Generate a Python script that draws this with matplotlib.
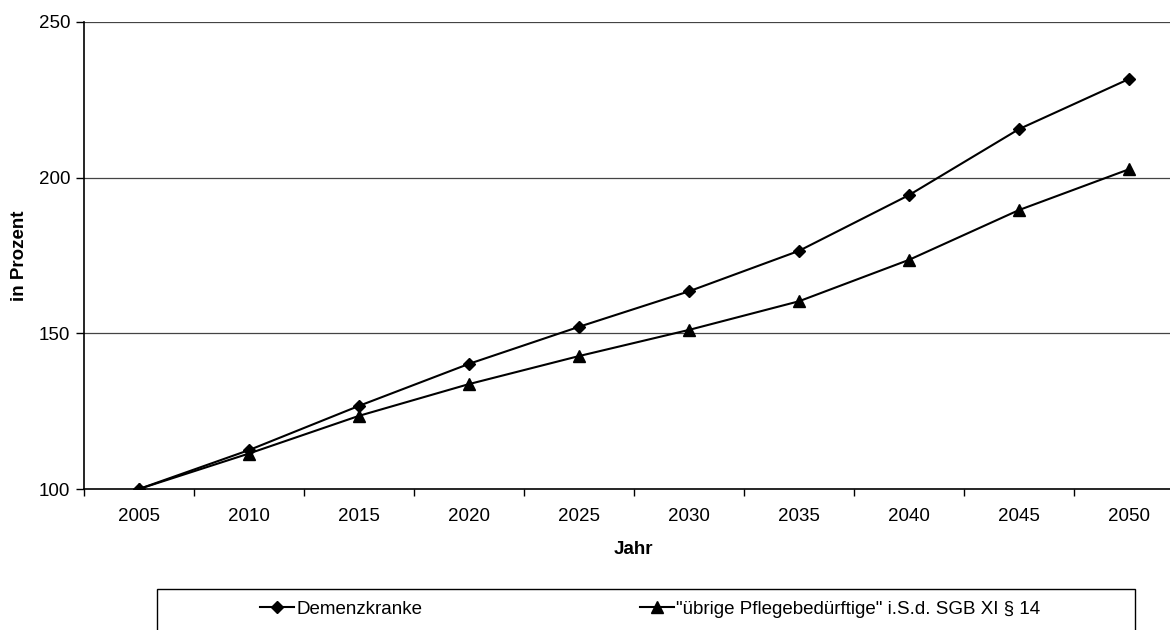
import matplotlib.pyplot as plt
import matplotlib.patches as patches
import numpy as np

plt.rcParams['font.family'] = ['Liberation Sans', 'DejaVu Sans']

years = ["2005", "2010", "2015", "2020", "2025", "2030", "2035", "2040", "2045", "2050"]
demenz = [100, 112.5, 126.7, 140.2, 152.1, 163.5, 176.5, 194.4, 215.6, 231.7]
uebrige = [100, 111.4, 123.5, 133.7, 142.7, 151.1, 160.3, 173.6, 189.6, 202.7]
y_ticks = [100, 150, 200, 250]

label_demenz = "Demenzkranke"
label_uebrige = "\"übrige Pflegebedürftige\" i.S.d. SGB XI § 14"

FS = 13.5
W, H = 1170, 630
fig = plt.figure(figsize=(W / 100, H / 100), dpi=100)
# axes run a little past the right edge of the canvas
ax = fig.add_axes([84 / W, 141 / H, 1100 / W, 467 / H])

x = np.arange(len(years))
h1, = ax.plot(x, demenz, color="black", lw=1.5, marker="D", ms=6.5,
              label=label_demenz)
h2, = ax.plot(x, uebrige, color="black", lw=1.5, marker="^", ms=8.5,
              label=label_uebrige)

ax.set_xlim(-0.5, len(years) - 0.5)
ax.set_ylim(100, 250)

# category boundaries get the tick marks, centres get the labels
ax.set_xticks(np.arange(-0.5, len(years), 1.0))
ax.set_xticklabels([])
ax.set_xticks(x, minor=True)
ax.set_xticklabels(years, minor=True)
ax.tick_params(axis="x", which="major", length=5, width=1, direction="out")
ax.tick_params(axis="x", which="minor", length=0, pad=14, labelsize=FS)

ax.set_yticks(y_ticks)
ax.tick_params(axis="y", length=6, width=1, direction="out", pad=4,
               labelsize=FS)

for v in y_ticks[1:]:
    ax.axhline(v, color="#444444", lw=0.9, zorder=0)

for s in ("top", "right"):
    ax.spines[s].set_visible(False)
ax.spines["left"].set_linewidth(1.2)
ax.spines["bottom"].set_linewidth(1.2)

ax.set_xlabel("Jahr", fontsize=FS, fontweight="bold")
ax.xaxis.set_label_coords((W / 2 - 84 + 48) / 1100, -(541 - 489) / 467)
ax.set_ylabel("in Prozent", fontsize=FS, fontweight="bold")
ax.yaxis.set_label_coords((28 - 84) / 1100, 0.5)

# legend box, open at the bottom edge of the canvas
fig.patches.append(patches.Rectangle((157 / W, -0.05), (1135 - 157) / W,
                                     0.05 + (630 - 589) / H,
                                     transform=fig.transFigure,
                                     fill=False, edgecolor="black", lw=1))
leg_y = 1 - 609 / H
fig.legend(handles=[h1], loc="center left", bbox_to_anchor=(251 / W, leg_y),
           frameon=False, borderpad=0, handlelength=1.8, handletextpad=0.1,
           fontsize=FS)
fig.legend(handles=[h2], loc="center left", bbox_to_anchor=(631 / W, leg_y),
           frameon=False, borderpad=0, handlelength=1.8, handletextpad=0.1,
           fontsize=FS)

fig.savefig("out.png", dpi=100)
